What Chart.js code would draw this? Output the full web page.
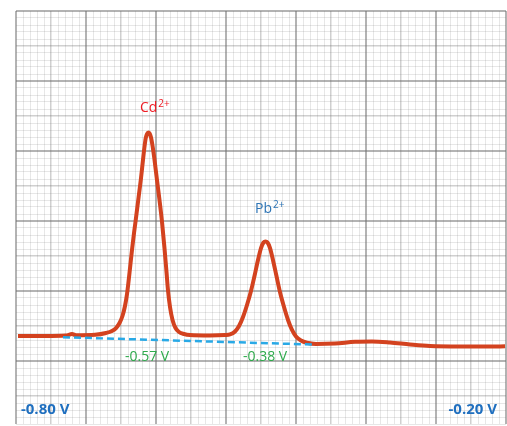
<!DOCTYPE html>
<html>
<head>
<meta charset="utf-8">
<script src="https://cdn.jsdelivr.net/npm/chart.js"></script>
<style>
  body { margin: 0; background: #fff; }
  #wrap { width: 507px; height: 426px; }
</style>
</head>
<body>
<div id="wrap"><canvas id="chart" width="507" height="426"></canvas></div>
<script>
// Polarogram. Units are paper divisions
// (x: 0..70 left to right, y: 1..60 bottom to top)
const traceX = [0.29, 4.14, 7.14, 8.0, 8.57, 11.29, 12.86, 13.71, 14.29, 14.79,
  15.21, 15.57, 15.86, 16.07, 16.29, 16.57, 16.86, 17.14, 17.5, 17.86,
  18.14, 18.37, 18.54, 18.71, 18.9, 19.09, 19.29, 19.51, 19.79, 20.14,
  20.5, 20.86, 21.21, 21.5, 21.71, 22.0, 22.36, 22.79, 23.29, 24.0,
  24.86, 27.71, 29.86, 30.57, 31.29, 31.86, 32.43, 33.0, 33.57, 34.07,
  34.57, 35.0, 35.36, 35.64, 35.93, 36.29, 36.71, 37.21, 37.71, 38.29,
  38.86, 39.43, 40.0, 40.71, 41.57, 42.86, 45.57, 48.43, 50.86, 53.43,
  56.29, 59.14, 63.43, 67.71, 69.86];
const traceY = [13.57, 13.57, 13.64, 13.86, 13.67, 13.74, 14.0, 14.29, 14.71, 15.43,
  16.43, 17.86, 19.57, 21.29, 23.29, 25.86, 28.29, 30.43, 33.29, 36.14,
  38.71, 40.71, 41.86, 42.43, 42.64, 42.5, 41.93, 40.71, 38.71, 35.86,
  33.0, 29.86, 26.14, 22.71, 20.14, 17.71, 15.86, 14.71, 14.14, 13.86,
  13.71, 13.64, 13.71, 13.79, 14.21, 15.0, 16.29, 18.0, 20.0, 22.14,
  24.43, 26.14, 26.93, 27.07, 26.93, 26.14, 24.43, 22.14, 19.86, 17.71,
  15.86, 14.43, 13.5, 12.93, 12.6, 12.43, 12.5, 12.74, 12.79, 12.64,
  12.36, 12.14, 12.07, 12.07, 12.1];

// baseline drawn under both peaks
const baseX = [6.71, 42.43];
const baseY = [13.4, 12.35];

// texts
const peakNames = ['Cd', 'Pb'];
const peakCharges = ['2+', '2+'];
const peakPotentials = ['-0.57 V', '-0.38 V'];
const rangeLabels = ['-0.80 V', '-0.20 V'];

const toPoints = (xs, ys) => xs.map((x, i) => ({ x: x, y: ys[i] }));

// where the texts sit (in paper divisions) and how they look
const notes = [
  { text: peakNames[0], sup: peakCharges[0], x: 17.71, y: 45.53, color: '#ee1c25', size: 14, bold: false, base: 'alphabetic', align: 'left' },
  { text: peakNames[1], sup: peakCharges[1], x: 34.14, y: 31.1, color: '#2e75b6', size: 14, bold: false, base: 'alphabetic', align: 'left' },
  { text: peakPotentials[0], x: 15.57, y: 10.57, color: '#2eaa4c', size: 14, bold: false, base: 'middle', align: 'left' },
  { text: peakPotentials[1], x: 32.43, y: 10.57, color: '#2eaa4c', size: 14, bold: false, base: 'middle', align: 'left' },
  { text: rangeLabels[0], x: 0.71, y: 3.0, color: '#1f6fbf', size: 15, bold: true, base: 'middle', align: 'left' },
  { text: rangeLabels[1], x: 68.71, y: 3.0, color: '#1f6fbf', size: 15, bold: true, base: 'middle', align: 'right' }
];

const notesPlugin = {
  id: 'notes',
  afterDatasetsDraw(chart) {
    const ctx = chart.ctx;
    const xs = chart.scales.x, ys = chart.scales.y;
    ctx.save();
    notes.forEach(n => {
      const px = xs.getPixelForValue(n.x);
      const py = ys.getPixelForValue(n.y);
      ctx.fillStyle = n.color;
      ctx.textBaseline = n.base;
      ctx.textAlign = n.align;
      ctx.font = (n.bold ? 'bold ' : '') + n.size + 'px "Open Sans", sans-serif';
      ctx.fillText(n.text, px, py);
      if (n.sup) {
        const w = ctx.measureText(n.text).width;
        ctx.font = Math.round(n.size * 0.7) + 'px "Open Sans", sans-serif';
        ctx.fillText(n.sup, px + w + 1, py - n.size * 0.4);
      }
    });
    ctx.restore();
  }
};

// paper grid: heavy every 10 divisions, medium every 5, light otherwise
function gridColor(c) {
  const v = c.tick.value;
  if (v % 10 === 0) return 'rgba(110,110,110,0.52)';
  if (v % 5 === 0) return 'rgba(110,110,110,0.32)';
  return 'rgba(110,110,110,0.17)';
}
function gridWidth(c) {
  const v = c.tick.value;
  if (v % 10 === 0) return 2;
  if (v % 5 === 0) return 1.5;
  return 1;
}

new Chart(document.getElementById('chart'), {
  type: 'line',
  data: {
    datasets: [
      {
        data: toPoints(traceX, traceY),
        borderColor: '#d3421f',
        borderWidth: 4,
        pointRadius: 0,
        pointHoverRadius: 0,
        cubicInterpolationMode: 'monotone',
        fill: false,
        order: 2
      },
      {
        data: toPoints(baseX, baseY),
        borderColor: '#29a9e6',
        borderWidth: 2.5,
        borderDash: [7, 4],
        pointRadius: 0,
        pointHoverRadius: 0,
        fill: false,
        order: 1
      }
    ]
  },
  options: {
    responsive: false,
    animation: false,
    layout: { autoPadding: false, padding: { left: 16, top: 11, right: 1, bottom: 2 } },
    plugins: { legend: { display: false }, tooltip: { enabled: false } },
    scales: {
      x: {
        type: 'linear', min: 0, max: 70,
        ticks: { stepSize: 1, display: false },
        grid: { color: gridColor, lineWidth: gridWidth, drawTicks: false },
        border: { display: false }
      },
      y: {
        type: 'linear', min: 1, max: 60,
        ticks: { stepSize: 1, display: false },
        grid: { color: gridColor, lineWidth: gridWidth, drawTicks: false },
        border: { display: false }
      }
    }
  },
  plugins: [notesPlugin]
});
</script>
</body>
</html>
